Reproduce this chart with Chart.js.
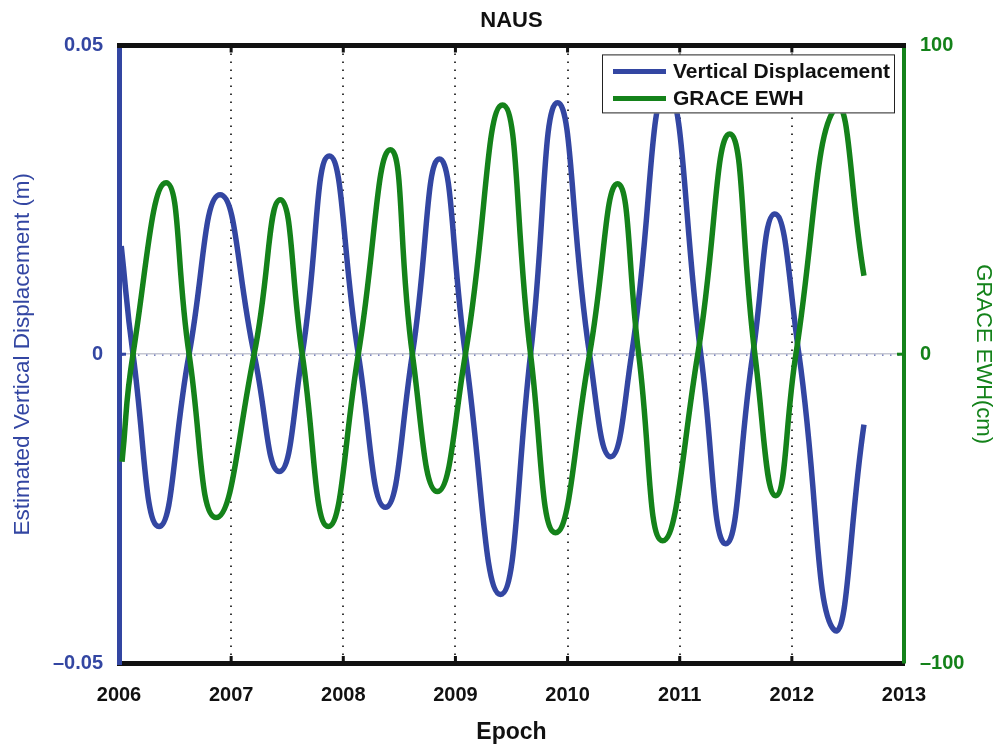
<!DOCTYPE html>
<html>
<head>
<meta charset="utf-8">
<script src="https://cdn.jsdelivr.net/npm/chart.js@4.4.1/dist/chart.umd.min.js"></script>
<style>
  html, body { margin: 0; padding: 0; background: #fff; }
  #wrap { width: 999px; height: 748px; }
</style>
</head>
<body>
<div id="wrap"><canvas id="naus" width="999" height="748"></canvas></div>
<script>
// Values: extremes and zero crossings of each curve
const blueYears = [2006.02, 2006.125, 2006.357, 2006.625, 2006.902, 2007.205, 2007.429, 2007.634, 2007.875,
  2008.134, 2008.375, 2008.616, 2008.857, 2009.089, 2009.402, 2009.670, 2009.911, 2010.196, 2010.384,
  2010.571, 2010.884, 2011.188, 2011.411, 2011.652, 2011.848, 2012.063, 2012.375, 2012.643];
const blueValues = [0.0175, 0, -0.0279, 0, 0.0258, 0, -0.0190, 0, 0.0321,
  0, -0.0248, 0, 0.0316, 0, -0.0389, 0, 0.0407, 0, -0.0166,
  0, 0.0428, 0, -0.0307, 0, 0.0227, 0, -0.0446, -0.0114];

const greenYears = [2006.027, 2006.125, 2006.42, 2006.625, 2006.866, 2007.205, 2007.438, 2007.634, 2007.866,
  2008.134, 2008.42, 2008.616, 2008.839, 2009.089, 2009.42, 2009.670, 2009.893, 2010.196, 2010.446,
  2010.634, 2010.848, 2011.161, 2011.446, 2011.67, 2011.857, 2012.036, 2012.39, 2012.643];
const greenValues = [-34.8, 0, 55.5, 0, -52.9, 0, 50.0, 0, -55.8,
  0, 66.2, 0, -44.5, 0, 80.7, 0, -57.8, 0, 55.2,
  0, -60.4, 0, 71.3, 0, -45.8, 0, 79.8, 25.4];

const yearTicks = [2006, 2013];          // x range
const leftTicks = [-0.05, 0.05];         // displacement range (m)
const rightTicks = [-100, 100];          // EWH range (cm)

var blue = "#3346a2";
var green = "#14821a";
var fontFamily = "'Liberation Sans', Arial, Helvetica, sans-serif";

Chart.defaults.font.family = fontFamily;
Chart.defaults.color = "#111111";

function toPoints(xs, ys) {
    return xs.map((x, i) => ({ x: x, y: ys[i] }));
}

function fmt(v) {
    if (Math.abs(v) < 1e-9) return "0";
    var s = String(parseFloat(Math.abs(v).toPrecision(6)));
    return v < 0 ? "\u2013" + s : s;
}

const none = "rgba(0,0,0,0)";

// top border and the small inward tick marks
const frame = {
    id: "frame",
    afterDatasetsDraw(chart) {
        const { ctx, chartArea: a, scales } = chart;
        ctx.save();
        ctx.strokeStyle = "#111";
        ctx.lineWidth = 5;
        ctx.beginPath();
        ctx.moveTo(a.left - 2, a.top);
        ctx.lineTo(a.right + 2, a.top);
        ctx.stroke();

        ctx.lineWidth = 3;
        scales.x.ticks.forEach(t => {
            if (t.value <= yearTicks[0] || t.value >= yearTicks[1]) return;
            const px = scales.x.getPixelForValue(t.value);
            ctx.beginPath();
            ctx.moveTo(px, a.top);
            ctx.lineTo(px, a.top + 7);
            ctx.moveTo(px, a.bottom);
            ctx.lineTo(px, a.bottom - 7);
            ctx.stroke();
        });

        const y0 = scales.y.getPixelForValue(0);
        ctx.strokeStyle = blue;
        ctx.beginPath();
        ctx.moveTo(a.left, y0);
        ctx.lineTo(a.left + 7, y0);
        ctx.stroke();
        ctx.strokeStyle = green;
        ctx.beginPath();
        ctx.moveTo(a.right, y0);
        ctx.lineTo(a.right - 7, y0);
        ctx.stroke();
        ctx.restore();
    }
};

// MATLAB style legend box in the top right corner
const legendBox = {
    id: "legendBox",
    afterDraw(chart) {
        const { ctx, chartArea: a } = chart;
        const w = 293, h = 59;
        const x0 = a.right - 9 - w, y0 = a.top + 9;
        ctx.save();
        ctx.fillStyle = "#fff";
        ctx.fillRect(x0, y0, w, h);
        ctx.strokeStyle = "#222";
        ctx.lineWidth = 1;
        ctx.strokeRect(x0 + 0.5, y0 + 0.5, w - 1, h - 1);
        ctx.font = "bold 21px " + fontFamily;
        ctx.textBaseline = "middle";
        chart.data.datasets.forEach((ds, i) => {
            const cy = y0 + 17 + i * 27;
            ctx.strokeStyle = ds.borderColor;
            ctx.lineWidth = 5;
            ctx.beginPath();
            ctx.moveTo(x0 + 11, cy);
            ctx.lineTo(x0 + 64, cy);
            ctx.stroke();
            ctx.fillStyle = "#111";
            ctx.fillText(ds.label, x0 + 71, cy + 1);
        });
        ctx.restore();
    }
};

new Chart(document.getElementById("naus"), {
    type: "line",
    data: {
        datasets: [{
            label: "Vertical Displacement",
            data: toPoints(blueYears, blueValues),
            yAxisID: "y",
            borderColor: blue,
            borderWidth: 5.5,
            pointRadius: 0,
            tension: 0.5,
            order: 2
        }, {
            label: "GRACE EWH",
            data: toPoints(greenYears, greenValues),
            yAxisID: "y2",
            borderColor: green,
            borderWidth: 5.5,
            pointRadius: 0,
            tension: 0.5,
            order: 1
        }]
    },
    options: {
        responsive: false,
        animation: false,
        layout: { padding: 0 },
        plugins: {
            legend: { display: false },
            tooltip: { enabled: false },
            title: {
                display: true,
                text: "NAUS",
                color: "#111",
                fullSize: false,
                font: { size: 22, weight: "bold" },
                padding: { top: 8, bottom: 11 }
            }
        },
        scales: {
            x: {
                type: "linear",
                min: yearTicks[0],
                max: yearTicks[1],
                ticks: {
                    stepSize: 1,
                    padding: 20,
                    color: "#111",
                    font: { size: 20, weight: "bold" },
                    callback: v => String(v)
                },
                grid: {
                    color: c => (c.tick && c.tick.value > yearTicks[0] && c.tick.value < yearTicks[1]) ? "#3a3a3a" : none,
                    lineWidth: 2,
                    drawTicks: false
                },
                border: { display: true, color: "#111", width: 5, dash: [1.5, 6.5] },
                title: {
                    display: true,
                    text: "Epoch",
                    color: "#111",
                    font: { size: 23, weight: "bold" },
                    padding: { top: 0, bottom: 2 }
                },
                afterFit: s => { s.height = 85; }
            },
            y: {
                type: "linear",
                position: "left",
                min: leftTicks[0],
                max: leftTicks[1],
                ticks: {
                    stepSize: 0.05,
                    padding: 16,
                    color: blue,
                    font: { size: 20, weight: "bold" },
                    callback: fmt
                },
                grid: {
                    color: c => (c.tick && Math.abs(c.tick.value) < 1e-9) ? "#7d86c0" : none,
                    lineWidth: 3,
                    drawTicks: false
                },
                border: { color: blue, width: 5, dash: [1.5, 6.5] },
                title: {
                    display: true,
                    text: "Estimated Vertical Displacement (m)",
                    color: blue,
                    font: { size: 22.5 },
                    padding: { top: 9, bottom: 0 }
                },
                afterFit: s => { s.width = 119; }
            },
            y2: {
                type: "linear",
                position: "right",
                z: -1,
                min: rightTicks[0],
                max: rightTicks[1],
                ticks: {
                    stepSize: 100,
                    padding: 16,
                    color: green,
                    font: { size: 20, weight: "bold" },
                    callback: fmt
                },
                grid: {
                    color: c => (c.tick && c.tick.value === 0) ? "#c4c6d2" : none,
                    lineWidth: 1.5,
                    drawTicks: false
                },
                border: { color: green, width: 4 },
                title: {
                    display: true,
                    text: "GRACE EWH(cm)",
                    color: green,
                    font: { size: 22 },
                    padding: { top: 3, bottom: 0 }
                },
                afterFit: s => { s.width = 95; }
            }
        }
    },
    plugins: [frame, legendBox]
});
</script>
</body>
</html>
